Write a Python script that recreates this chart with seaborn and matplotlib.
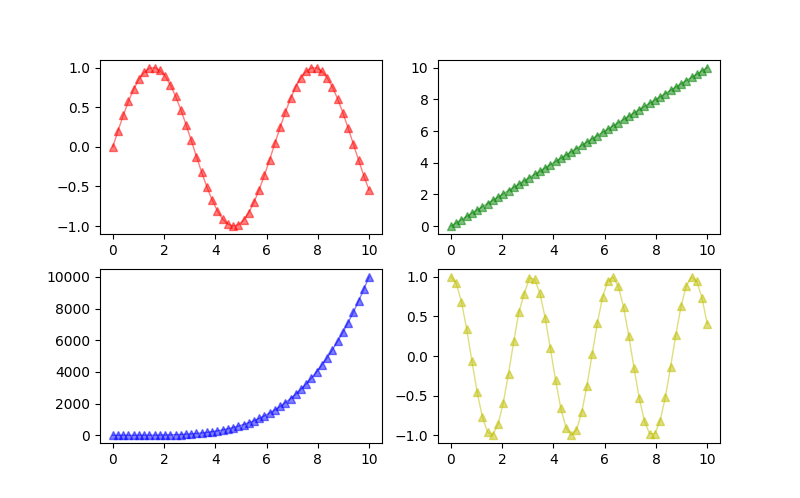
import matplotlib
matplotlib.use("Agg")
import matplotlib.pyplot as plt
import seaborn as sns

# x positions (50 points from 0 to 10)
x_vals = [0, 0.2041, 0.4082, 0.6122, 0.8163, 1.0204, 1.2245, 1.4286, 1.6327, 1.8367,
          2.0408, 2.2449, 2.4490, 2.6531, 2.8571, 3.0612, 3.2653, 3.4694, 3.6735, 3.8776,
          4.0816, 4.2857, 4.4898, 4.6939, 4.8980, 5.1020, 5.3061, 5.5102, 5.7143, 5.9184,
          6.1224, 6.3265, 6.5306, 6.7347, 6.9388, 7.1429, 7.3469, 7.5510, 7.7551, 7.9592,
          8.1633, 8.3673, 8.5714, 8.7755, 8.9796, 9.1837, 9.3878, 9.5918, 9.7959, 10.0]

# top-left (red)
wave_vals = [0, 0.2027, 0.3969, 0.5748, 0.7286, 0.8523, 0.9406, 0.9899, 0.9981, 0.9649,
             0.8916, 0.7813, 0.6386, 0.4695, 0.2807, 0.0803, -0.1234, -0.3220, -0.5072, -0.6714,
             -0.8077, -0.9103, -0.9754, -0.9998, -0.9828, -0.9251, -0.8288, -0.6982, -0.5390, -0.3568,
             -0.1601, 0.0433, 0.2449, 0.4363, 0.6096, 0.7576, 0.8741, 0.9544, 0.9951, 0.9945,
             0.9525, 0.8711, 0.7537, 0.6050, 0.4307, 0.2388, 0.0370, -0.1662, -0.3627, -0.5440]

# top-right (green)
linear_vals = list(x_vals)

# bottom-left (blue)
power_vals = [0, 0.0017, 0.0278, 0.1405, 0.444, 1.084, 2.248, 4.165, 7.106, 11.38,
              17.35, 25.40, 35.97, 49.55, 66.64, 87.81, 113.7, 144.9, 182.1, 226.1,
              277.5, 337.4, 406.4, 485.4, 575.6, 677.6, 792.6, 921.9, 1066.2, 1226.9,
              1405.0, 1601.9, 1818.9, 2057.2, 2318.0, 2603.1, 2913.6, 3251.1, 3617.0, 4013.0,
              4440.8, 4901.7, 5397.8, 5930.3, 6501.7, 7113.3, 7767.0, 8464.8, 9208.1, 10000.0]

# bottom-right (yellow)
fast_wave_vals = [1.0, 0.9178, 0.6849, 0.3399, -0.0619, -0.4529, -0.7697, -0.9598, -0.9924, -0.8618,
                  -0.5898, -0.2208, 0.1845, 0.5594, 0.7844, 0.9871, 0.9696, 0.7927, 0.4858, 0.0988,
                  -0.3044, -0.6574, -0.9025, -0.9993, -0.9319, -0.7113, -0.3741, 0.0248, 0.4196, 0.7455,
                  0.9488, 0.9962, 0.8801, 0.6193, 0.2567, -0.1480, -0.5284, -0.8219, -0.9805, -0.9779,
                  -0.8148, -0.5176, -0.1355, 0.2689, 0.6289, 0.8859, 0.9973, 0.9447, 0.7369, 0.4081]

series = [wave_vals, linear_vals, power_vals, fast_wave_vals]
colors = ["r", "g", "b", "y"]

fig, axes = plt.subplots(2, 2, figsize=(8, 4.98), dpi=100)

for ax, yv, c in zip(axes.flat, series, colors):
    sns.lineplot(x=x_vals, y=yv, ax=ax, color=c, marker="^", alpha=0.5,
                 linewidth=1, markersize=6, markeredgecolor=c, markeredgewidth=1)

plt.savefig("out.png")
